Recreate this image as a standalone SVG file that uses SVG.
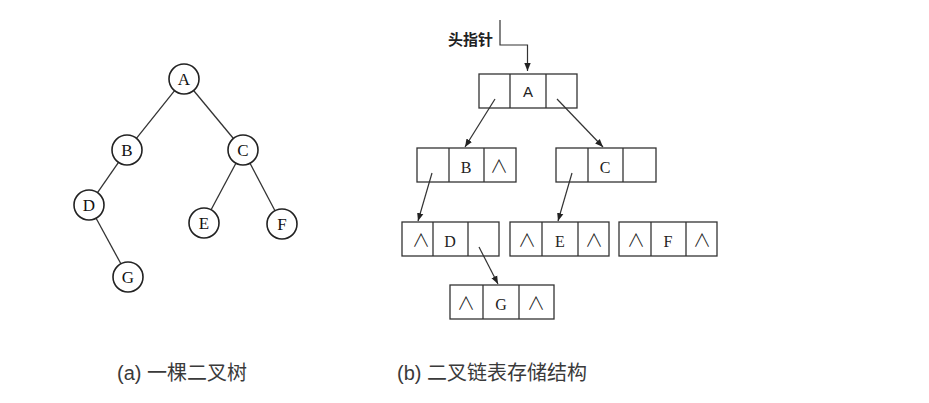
<svg xmlns="http://www.w3.org/2000/svg" width="929" height="403" viewBox="0 0 929 403">
<defs>
<style>
.circ{fill:#fff;stroke:#222;stroke-width:1.6}
.edge{stroke:#333;stroke-width:1.3;fill:none}
.box{fill:#fff;stroke:#333;stroke-width:1.3}
.tl{font-family:"Liberation Serif",serif;font-size:17px;fill:#111;text-anchor:middle}
.cl{font-family:"Liberation Serif",serif;font-size:16px;fill:#222;text-anchor:middle}
.nil{font-family:"Noto Sans CJK SC",sans-serif;font-size:18px;font-weight:300;fill:#222;text-anchor:middle}
.cap{font-family:"Liberation Sans","Noto Sans CJK SC",sans-serif;font-size:20px;fill:#3a3a3a}
.ptr{stroke:#333;stroke-width:1.2;fill:none;marker-end:url(#ah)}
</style>
<marker id="ah" viewBox="0 0 10 10" refX="10" refY="5" markerWidth="8" markerHeight="8" markerUnits="userSpaceOnUse" orient="auto">
<path d="M0,1 L10,5 L0,9 z" fill="#222"/>
</marker>
</defs>
<rect width="929" height="403" fill="#fff"/>

<g id="tree-edges">
<line class="edge" x1="174.6" y1="90.7" x2="136.4" y2="138.3"/>
<line class="edge" x1="193.6" y1="90.5" x2="233.4" y2="138.5"/>
<line class="edge" x1="118.5" y1="162.3" x2="97.5" y2="192.7"/>
<line class="edge" x1="235.9" y1="163.2" x2="211.1" y2="209.8"/>
<line class="edge" x1="250" y1="163.3" x2="275" y2="210.7"/>
<line class="edge" x1="96.1" y1="218.2" x2="120.9" y2="263.8"/>
</g>
<g id="tA"><circle class="circ" cx="184" cy="79" r="15"/><text class="tl" x="184" y="85">A</text></g>
<g id="tB"><circle class="circ" cx="127" cy="150" r="15"/><text class="tl" x="127" y="156">B</text></g>
<g id="tC"><circle class="circ" cx="243" cy="150" r="15"/><text class="tl" x="243" y="156">C</text></g>
<g id="tD"><circle class="circ" cx="89" cy="205" r="15"/><text class="tl" x="89" y="211">D</text></g>
<g id="tE"><circle class="circ" cx="204" cy="223" r="15"/><text class="tl" x="204" y="229">E</text></g>
<g id="tF"><circle class="circ" cx="282" cy="224" r="15"/><text class="tl" x="282" y="230">F</text></g>
<g id="tG"><circle class="circ" cx="128" cy="277" r="15"/><text class="tl" x="128" y="283">G</text></g>

<g id="head">
<text x="448" y="45" font-family="'Noto Sans CJK SC',sans-serif" font-size="15" font-weight="bold" fill="#222">头指针</text>
</g>

<g id="nA">
<rect class="box" x="479" y="74" width="98" height="34"/>
<line class="box" x1="510" y1="74" x2="510" y2="108"/><line class="box" x1="546" y1="74" x2="546" y2="108"/>
<text x="528" y="97" font-family="'Liberation Sans',sans-serif" font-size="15" fill="#222" text-anchor="middle">A</text>
</g>
<g id="nB">
<rect class="box" x="417" y="148" width="99" height="34"/>
<line class="box" x1="449" y1="148" x2="449" y2="182"/><line class="box" x1="484" y1="148" x2="484" y2="182"/>
<text class="cl" x="466" y="173">B</text><text class="nil" x="499" y="173">∧</text>
</g>
<g id="nC">
<rect class="box" x="556" y="148" width="100" height="34"/>
<line class="box" x1="588" y1="148" x2="588" y2="182"/><line class="box" x1="623" y1="148" x2="623" y2="182"/>
<text class="cl" x="605" y="173">C</text>
</g>
<g id="nD">
<rect class="box" x="402" y="222" width="97" height="34"/>
<line class="box" x1="433" y1="222" x2="433" y2="256"/><line class="box" x1="468" y1="222" x2="468" y2="256"/>
<text class="nil" x="421" y="247">∧</text><text class="cl" x="450" y="247">D</text>
</g>
<g id="nE">
<rect class="box" x="510" y="222" width="99" height="34"/>
<line class="box" x1="542" y1="222" x2="542" y2="256"/><line class="box" x1="578" y1="222" x2="578" y2="256"/>
<text class="nil" x="527" y="247">∧</text><text class="cl" x="560" y="247">E</text><text class="nil" x="594" y="247">∧</text>
</g>
<g id="nF">
<rect class="box" x="619" y="222" width="98" height="34"/>
<line class="box" x1="651" y1="222" x2="651" y2="256"/><line class="box" x1="686" y1="222" x2="686" y2="256"/>
<text class="nil" x="636" y="247">∧</text><text class="cl" x="668" y="247">F</text><text class="nil" x="702" y="247">∧</text>
</g>
<g id="nG">
<rect class="box" x="450" y="285" width="104" height="34"/>
<line class="box" x1="483" y1="285" x2="483" y2="319"/><line class="box" x1="519" y1="285" x2="519" y2="319"/>
<text class="nil" x="466" y="310">∧</text><text class="cl" x="501" y="310">G</text><text class="nil" x="536" y="310">∧</text>
</g>

<g id="connectors">
<path class="ptr" d="M500,20 V45 H527.5 V71"/>
<line class="ptr" x1="495" y1="99" x2="465" y2="147"/>
<line class="ptr" x1="557" y1="99" x2="603" y2="147"/>
<line class="ptr" x1="432" y1="173" x2="418" y2="221"/>
<line class="ptr" x1="572" y1="173" x2="558" y2="221"/>
<line class="ptr" x1="479" y1="247" x2="498" y2="284"/>
</g>

<g id="captions">
<text class="cap" x="117" y="380">(a) 一棵二叉树</text>
<text class="cap" x="397" y="380">(b) 二叉链表存储结构</text>
</g>
</svg>
